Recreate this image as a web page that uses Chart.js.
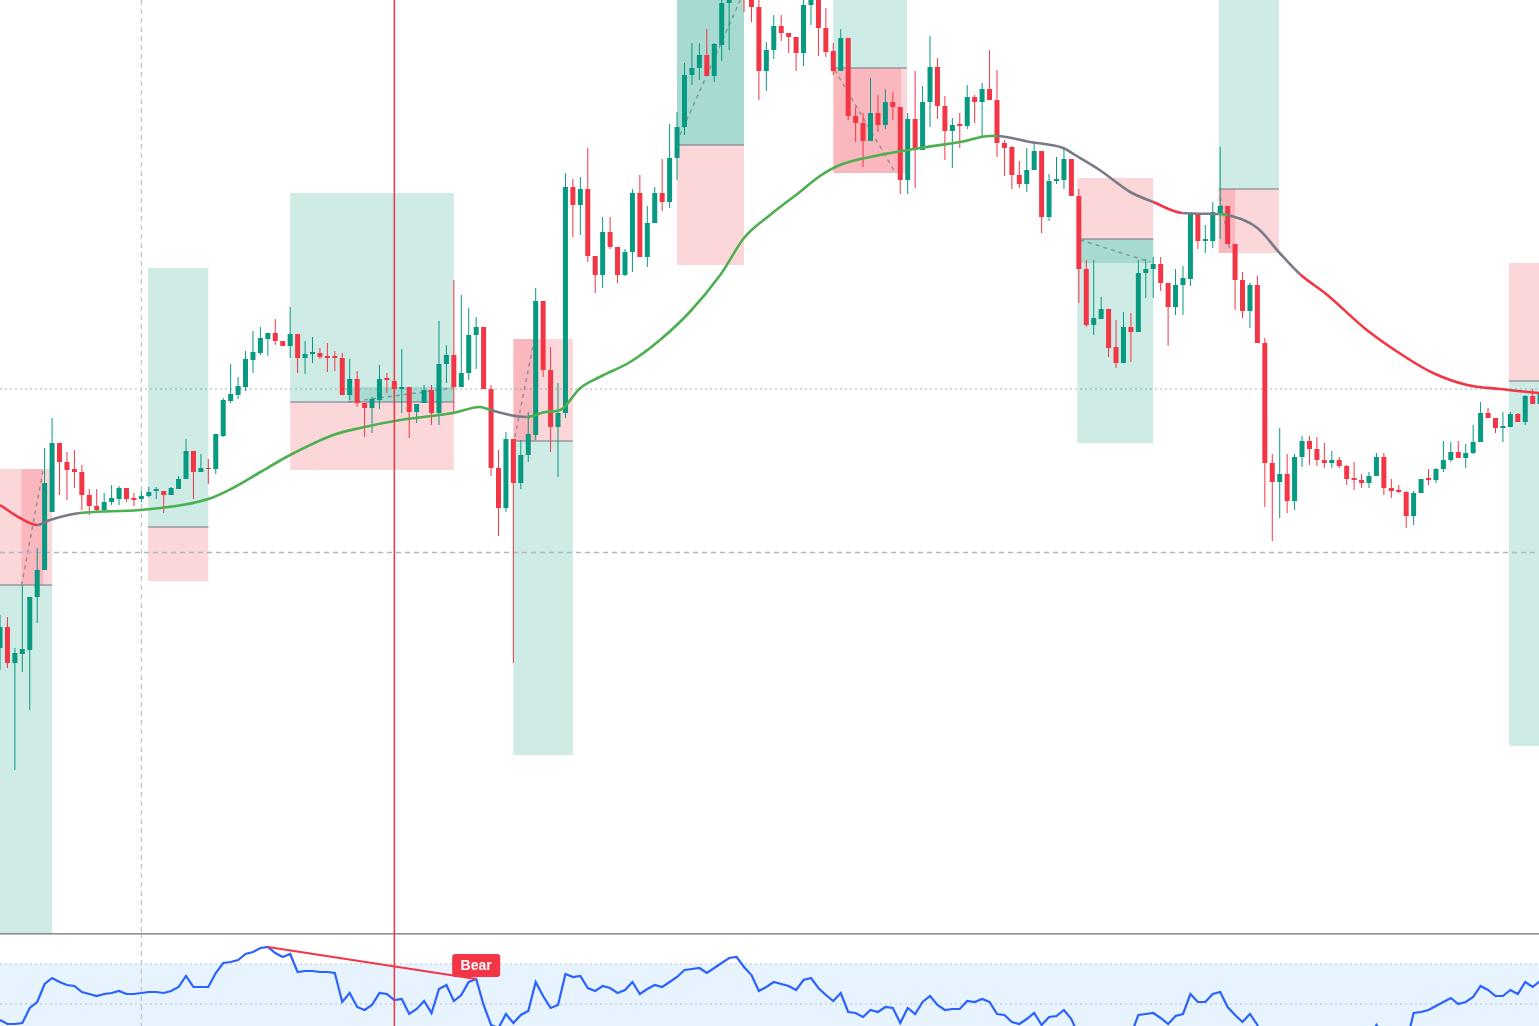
<!DOCTYPE html>
<html><head><meta charset="utf-8">
<script src="https://cdn.jsdelivr.net/npm/chart.js@4.4.1/dist/chart.umd.min.js"></script>
<style>
html,body{margin:0;padding:0;background:#fff;overflow:hidden;}
#wrap{position:relative;width:1539px;height:1026px;}
#main{position:absolute;left:0;top:0;}
#osc{position:absolute;left:0;top:933px;}
</style></head><body>
<div id="wrap"><canvas id="main" width="1539" height="933"></canvas><canvas id="osc" width="1539" height="93"></canvas></div>
<script>
// ---- candle data (price units) ----
const open=[352,373,337,346,350,403,430,488,557,538,531,528,505,494,490,498,501,512,502,501,504,509,509,505,511,521,549,528,532,531,564,599,605,613,640,647,661,667,659,654,666,642,646,647,644,644,642,605,621,597,592,600,622,619,611,613,588,597,610,587,636,645,613,627,665,673,611,532,492,561,517,545,565,699,630,573,587,813,795,811,744,725,768,753,725,748,807,743,777,807,798,842,873,925,932,945,924,955,997,1008,1025,1008,993,929,950,974,967,963,947,995,1003,972,949,929,962,884,877,859,887,875,898,893,820,881,850,898,933,894,869,876,874,903,898,911,900,857,853,825,816,830,849,783,819,820,841,804,731,675,681,691,653,637,673,668,727,731,736,717,693,715,721,787,759,759,787,794,756,720,689,715,657,537,518,526,499,543,559,551,540,537,540,534,522,520,517,524,543,512,510,508,484,507,522,520,531,540,548,542,547,558,587,582,572,573,586,578,604,596];
const high=[385,383,352,415,403,452,552,582,557,548,550,535,511,511,507,515,514,512,507,509,513,513,509,513,524,561,549,546,541,566,602,636,623,649,669,673,667,681,659,693,666,659,663,652,657,649,647,641,629,597,603,635,627,619,651,613,596,615,615,679,655,720,705,692,683,673,615,550,568,561,560,588,712,699,653,617,827,821,823,852,744,783,783,753,751,811,825,794,813,841,876,888,937,957,957,971,957,1005,1020,1030,1035,1015,1002,958,985,985,967,963,1002,1012,1008,992,957,971,962,893,887,922,905,911,908,893,887,929,914,964,942,904,882,887,915,905,917,950,930,860,854,839,852,858,849,826,843,852,841,811,740,740,703,691,680,688,687,740,741,743,743,717,731,734,787,787,775,798,853,794,756,728,717,724,662,546,572,546,546,564,564,563,557,549,543,535,538,526,528,547,547,521,515,509,509,521,531,532,559,558,559,556,575,598,592,582,588,588,587,605,611,610];
const low=[330,332,230,328,290,377,430,488,505,500,512,490,485,487,487,495,495,498,494,498,503,501,487,505,511,521,501,528,516,526,563,597,601,609,627,645,644,655,654,642,627,626,637,641,628,629,605,600,593,563,567,591,607,602,587,562,577,597,575,575,617,588,613,620,631,611,524,464,488,337,511,538,560,623,548,523,582,763,765,738,707,712,751,717,724,728,743,733,777,789,792,820,865,915,920,924,918,939,950,1003,988,978,900,909,941,959,947,929,934,975,944,943,925,929,880,858,833,859,868,871,880,806,806,812,850,873,881,840,832,852,871,877,863,900,843,824,811,812,808,830,767,779,816,811,804,697,673,665,681,643,632,637,638,668,702,702,709,654,685,685,714,751,747,752,761,756,690,682,672,657,493,459,482,487,490,533,535,534,532,532,532,515,510,512,512,524,505,502,507,472,475,507,515,517,528,538,542,532,546,558,582,567,558,573,578,575,596,596];
const close=[373,337,347,351,403,430,517,557,538,530,528,505,494,490,498,502,512,501,500,504,508,511,505,512,521,549,528,532,531,566,600,606,614,641,648,662,667,659,654,666,642,646,648,643,642,642,605,621,597,592,601,621,620,611,613,588,596,610,587,636,645,613,627,665,673,611,532,492,561,517,545,566,699,630,573,587,813,795,811,744,725,768,753,725,748,807,743,777,807,798,842,873,925,932,945,924,956,997,1010,1020,1005,993,929,950,974,967,963,947,995,1005,972,948,929,962,884,877,859,887,875,898,893,820,881,850,898,933,894,869,875,874,903,898,911,900,857,852,825,816,830,849,783,819,821,841,804,731,675,682,691,652,637,673,668,727,731,736,717,693,715,722,787,759,761,788,794,756,720,689,715,657,537,518,526,499,543,559,551,540,537,540,534,521,520,517,524,543,512,509,508,484,507,521,520,531,540,548,542,547,558,587,582,572,574,586,578,604,596,608];

// ---- oscillator (RSI) ----
const rsi=[42,40,40,40.5,48,51,60,63,61,59.5,59,56,55,54,55,55.5,56.5,55,55,55.5,56,56,55.5,56.5,58.5,64,58.5,58.5,58.5,65.5,70.5,71,72,75,76,78,78.5,75.5,73.5,75,66,66.5,66.5,66,66,65.5,51,55.5,48.5,47,49.5,55.5,55,52,52.5,45,47.5,51.5,45.5,57.5,59.5,51.5,54.5,61,62.5,49.5,39.5,38,45,40.5,44.5,46.5,61,54,48,49.5,65,63.5,64,58,56.5,59,58,55.5,57,61,55,57.5,59.5,58.5,61,63.5,67,67.5,68,65.5,68,70.5,73,73.5,68.5,64.5,56.5,58.5,61,60,59,57,62,63,58,54.5,51.5,55.5,46,45.5,43.5,47,46,48.5,48,40.5,48,45,51,54,49.5,47,47.5,47.5,51.5,51,52.5,51,45,44.5,41,40,42.5,45.5,39.5,43.5,44,47,42.5,34,31,32,33.5,30.5,29,35.5,34.5,44.5,45,45.5,43,40,44,45,55,51,51,55,56,48.5,44.5,41,45,39.5,27,25.5,27,26,30,32,31.5,30.5,30.5,31,30.5,29,29,29.5,32,39.5,34,33,32.5,30,45.5,46,47,49,51,53,50,51,53.5,59,57,54,54,57,55,61,58.5,61.5];
const rsiUpper=70, rsiMid=50, rsiLower=30;
const divergence=[[36,78.5],[64,62.5]];
const divergenceLabel='Bear';

// ---- moving average ----
const emaX=[0,2.7,5,6.7,10.75,18.8,28,31.3,35,39,44.8,48.4,53.8,60.9,64.5,65.9,68.5,70.8,73.3,75.3,78,80.6,84.7,88.7,92.7,96.8,100.1,103.5,107.5,110.2,112.9,118.3,123.7,129,133.1,134,138.4,142.9,144.5,147.8,151.9,155,158.9,163.8,165,169,172,174.7,178.4,183.7,189.1,192.6,197.2,201.6,206.9];
const emaY=[495,482,475,480,487,490,501,512,528,545,565,572,580,587,593,590,585,583,588,590,612,623,638,660,688,725,763,785,808,824,835,845,852,858,864,864,858,852,845,830,808,798,787,786,785,772,747,726,705,670,642,627,615,611,607];
const emaTrend=['down','down','flat','flat','up','up','up','up','up','up','up','up','up','up','up','flat','flat','up','up','up','up','up','up','up','up','up','up','up','up','up','up','up','up','up','up','flat','flat','flat','flat','flat','flat','down','flat','up','flat','flat','flat','down','down','down','down','down','down','down','down'];

// ---- trade zones [fromBar, toBar, upperPrice, lowerPrice] ----
const targetZones=[[0,7,415,67],[19.9,28,732,473],[39,61,807,598],[69,77,559,245],[91,100,1010,855],[112,121.9,1010,932],[144.8,155,761,557],[163.8,171.9,1010,811],[202.8,208,619,254]];
const stopZones=[[0,7,531,415],[19.9,28,473,419],[39,61,598,530],[69,77,661,559],[91,100,855,735],[112,121.9,932,827],[144.8,155,822,761],[163.8,171.9,811,747],[202.8,208,737,619]];
const targetHits=[[46.8,61,613,598],[91,100,1010,855],[144.8,155,761,737]];
const stopHits=[[2.9,5.8,531,415],[69,72.1,661,559],[112,121.1,932,827],[163.8,166,811,747]];
const entryLevels=[[0,7,415],[19.9,28,473],[39,61,598],[69,77,559],[91,100,855],[112,121.9,932],[144.8,155,761],[163.8,171.9,811],[202.8,208,619]];
const tradePaths=[[2.9,415,5.8,530],[46.8,598,61,612],[69.2,563,71.8,660],[91.4,865,99.5,1000],[112.2,930,120.3,828],[145.2,760,154.6,738],[164,803,165.3,750]];
const levelDotted=611, levelDashed=447.5;
const markerBar=19, cursorBar=53;

const X_MIN=0, X_MAX=206.85;
const bars=open.map((_,i)=>i);
const UP='#089981', DN='#f23645';
const candleColor=bars.map(i=>close[i]>=open[i]?UP:DN);
const trendColor={up:'#4caf50',down:'#f23645',flat:'#787b86'};

function vline(ctx,x,top,bottom,color,w,dash){ctx.save();ctx.strokeStyle=color;ctx.lineWidth=w;ctx.setLineDash(dash||[]);ctx.beginPath();ctx.moveTo(x,top);ctx.lineTo(x,bottom);ctx.stroke();ctx.restore();}
function hline(ctx,y,left,right,color,w,dash){ctx.save();ctx.strokeStyle=color;ctx.lineWidth=w;ctx.setLineDash(dash||[]);ctx.beginPath();ctx.moveTo(left,y);ctx.lineTo(right,y);ctx.stroke();ctx.restore();}

const mainOverlay={
  id:'mainOverlay',
  beforeDatasetsDraw(chart){
    const {ctx,chartArea:a,scales:{x,y}}=chart;
    ctx.save();
    ctx.beginPath();ctx.rect(a.left,a.top,a.right-a.left,a.bottom-a.top);ctx.clip();
    const fill=(z,c)=>{const x1=x.getPixelForValue(z[0]),x2=x.getPixelForValue(z[1]),y1=y.getPixelForValue(z[2]),y2=y.getPixelForValue(z[3]);ctx.fillStyle=c;ctx.fillRect(x1,y1,x2-x1,y2-y1);};
    targetZones.forEach(z=>fill(z,'rgba(8,153,129,0.2)'));
    stopZones.forEach(z=>fill(z,'rgba(242,54,69,0.2)'));
    targetHits.forEach(z=>fill(z,'rgba(8,153,129,0.2)'));
    stopHits.forEach(z=>fill(z,'rgba(242,54,69,0.2)'));
    entryLevels.forEach(l=>hline(ctx,y.getPixelForValue(l[2]),x.getPixelForValue(l[0]),x.getPixelForValue(l[1]),'rgba(120,123,134,0.7)',1.5));
    tradePaths.forEach(p=>{ctx.save();ctx.strokeStyle='rgba(120,123,134,0.7)';ctx.lineWidth=1.5;ctx.setLineDash([4,4]);ctx.beginPath();ctx.moveTo(x.getPixelForValue(p[0]),y.getPixelForValue(p[1]));ctx.lineTo(x.getPixelForValue(p[2]),y.getPixelForValue(p[3]));ctx.stroke();ctx.restore();});
    hline(ctx,y.getPixelForValue(levelDotted),a.left,a.right,'rgba(110,170,160,0.75)',1.2,[2,3]);
    hline(ctx,y.getPixelForValue(levelDashed),a.left,a.right,'#b2b5be',1.3,[5,4]);
    vline(ctx,x.getPixelForValue(markerBar),a.top,a.bottom,'#c3c5cc',1.3,[5,4]);
    ctx.restore();
  },
  afterDatasetsDraw(chart){
    const {ctx,chartArea:a,scales:{x}}=chart;
    vline(ctx,x.getPixelForValue(cursorBar),a.top,a.bottom,'#f23645',1.5);
  }
};

new Chart(document.getElementById('main'),{
  type:'bar',
  data:{datasets:[
    {type:'line',data:emaX.map((v,i)=>({x:v,y:emaY[i]})),borderWidth:2.6,pointRadius:0,cubicInterpolationMode:'monotone',
     segment:{borderColor:c=>trendColor[emaTrend[c.p0DataIndex]]},borderColor:'#787b86',order:0},
    {data:bars.map(i=>({x:i,y:[open[i],close[i]]})),backgroundColor:candleColor,barThickness:5,grouped:false,inflateAmount:0,borderWidth:0,order:2},
    {data:bars.map(i=>({x:i,y:[low[i],high[i]]})),backgroundColor:candleColor,barThickness:1,grouped:false,inflateAmount:0,borderWidth:0,order:3}
  ]},
  options:{responsive:false,animation:false,events:[],layout:{padding:0},
    plugins:{legend:{display:false},tooltip:{enabled:false}},
    scales:{x:{type:'linear',min:X_MIN,max:X_MAX,offset:false,display:false},
            y:{type:'linear',min:67,max:1000,display:false}}},
  plugins:[mainOverlay]
});

const oscOverlay={
  id:'oscOverlay',
  beforeDatasetsDraw(chart){
    const {ctx,chartArea:a,scales:{x,y}}=chart;
    ctx.save();
    ctx.beginPath();ctx.rect(a.left,a.top,a.right-a.left,a.bottom-a.top);ctx.clip();
    const yU=y.getPixelForValue(rsiUpper),yL=y.getPixelForValue(rsiLower);
    ctx.fillStyle='rgba(33,150,243,0.11)';ctx.fillRect(a.left,yU,a.right-a.left,yL-yU);
    hline(ctx,yU,a.left,a.right,'rgba(120,123,134,0.45)',1.2,[2,3]);
    hline(ctx,y.getPixelForValue(rsiMid),a.left,a.right,'rgba(120,123,134,0.45)',1.2,[2,3]);
    vline(ctx,x.getPixelForValue(markerBar),a.top,a.bottom,'#c3c5cc',1.3,[5,4]);
    ctx.fillStyle='#8f8f8f';ctx.fillRect(a.left,0,a.right-a.left,1.6);
    ctx.restore();
  },
  afterDatasetsDraw(chart){
    const {ctx,chartArea:a,scales:{x,y}}=chart;
    ctx.save();
    ctx.strokeStyle='#f23645';ctx.lineWidth=2;ctx.beginPath();
    ctx.moveTo(x.getPixelForValue(divergence[0][0]),y.getPixelForValue(divergence[0][1]));
    ctx.lineTo(x.getPixelForValue(divergence[1][0]),y.getPixelForValue(divergence[1][1]));
    ctx.stroke();
    const lx=x.getPixelForValue(divergence[1][0]),ly=y.getPixelForValue(divergence[1][1]);
    const w=48,h=23,bx=lx-w/2,by=ly-2-h;
    ctx.fillStyle='#f23645';ctx.beginPath();ctx.roundRect(bx,by,w,h,3);ctx.fill();
    ctx.fillStyle='#ffffff';ctx.font='bold 14px "Liberation Sans", Arial, sans-serif';ctx.textAlign='center';ctx.textBaseline='middle';
    ctx.fillText(divergenceLabel,lx,by+h/2+1);
    ctx.restore();
    vline(ctx,x.getPixelForValue(cursorBar),0,a.bottom,'#f23645',1.5);
  }
};

new Chart(document.getElementById('osc'),{
  type:'line',
  data:{datasets:[{data:bars.map(i=>({x:i,y:rsi[i]})),borderColor:'#2962ff',borderWidth:2.2,pointRadius:0,tension:0}]},
  options:{responsive:false,animation:false,events:[],layout:{padding:0},
    plugins:{legend:{display:false},tooltip:{enabled:false}},
    scales:{x:{type:'linear',min:X_MIN,max:X_MAX,display:false},
            y:{type:'linear',min:39,max:85.5,display:false}}},
  plugins:[oscOverlay]
});
</script>
</body></html>
